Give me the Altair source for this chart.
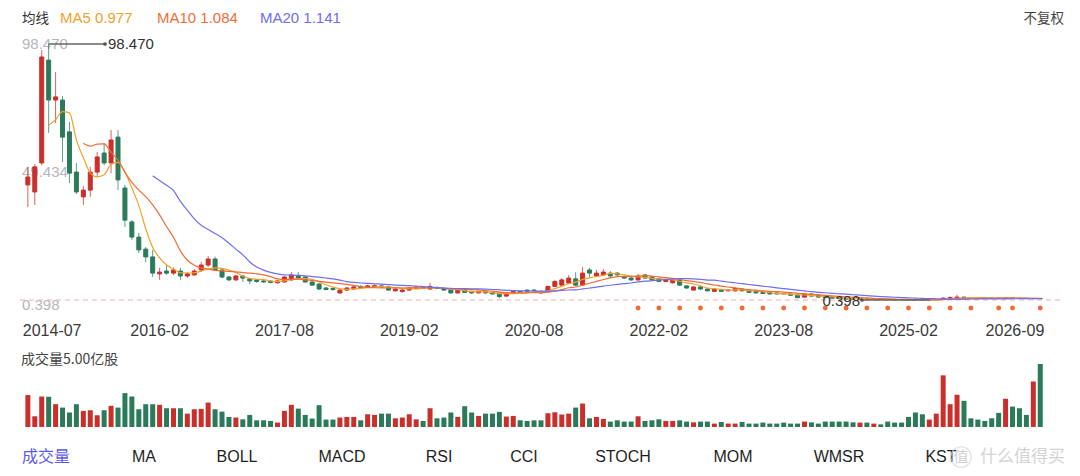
import altair as alt
import pandas as pd

# ---------------- data (monthly candles) ----------------
opens = [44.5, 41.8, 52.9, 92.3, 77.0, 77.0, 64.8, 49.4, 39.9, 42.5,
         49.4, 56.7, 52.9, 62.8, 43.3, 30.3, 24.5, 19.9, 16.9, 10.4,
         11.5, 10.7, 11.5, 9.6, 10.0, 11.9, 13.8, 16.1, 11.9, 9.2,
         8.1, 9.6, 8.5, 8.1, 7.7, 7.6, 7.0, 7.3, 8.1, 9.6,
         9.2, 7.3, 6.5, 5.0, 4.8, 3.1, 4.2, 4.6, 5.6, 5.2,
         5.4, 5.8, 5.4, 3.9, 3.6, 4.2, 4.9, 5.4, 4.6, 5.2,
         4.6, 4.2, 3.1, 4.2, 3.7, 3.1, 3.5, 3.3, 3.1, 1.9,
         3.1, 3.7, 4.2, 4.2, 3.7, 3.7, 5.6, 6.1, 6.9, 8.5,
         6.1, 11.9, 9.6, 10.0, 10.7, 10.7, 9.3, 8.8, 8.1, 10.0,
         9.3, 8.5, 7.5, 7.0, 8.1, 5.8, 4.2, 5.4, 4.6, 3.7,
         4.2, 3.9, 3.9, 4.6, 3.9, 3.7, 3.3, 3.3, 3.1, 2.9,
         2.7, 2.3, 1.5, 2.7, 2.3, 1.9, 1.4, 1.1, 0.9, 0.8,
         0.65, 0.8, 0.6, 0.7, 0.6, 0.58, 0.52, 0.5, 0.48, 0.47,
         0.42, 0.43, 0.6, 1.0, 1.2, 1.5, 1.3, 1.25, 1.2, 1.15,
         1.1, 1.0, 1.15, 1.05, 1.0, 0.9, 0.98]
closes = [47.5, 51.4, 93.5, 77.0, 78.2, 62.8, 49.0, 41.8, 42.5, 49.4,
          55.2, 52.9, 61.7, 46.4, 31.0, 24.5, 19.6, 16.9, 10.7, 11.1,
          10.7, 11.9, 9.6, 10.4, 11.5, 13.8, 16.1, 11.9, 9.2, 8.1,
          9.6, 8.8, 7.7, 7.5, 7.3, 7.1, 7.7, 9.2, 10.0, 8.8,
          7.3, 6.1, 4.6, 4.4, 4.4, 4.2, 5.0, 5.4, 5.2, 5.8,
          5.9, 5.4, 4.2, 4.6, 4.2, 5.0, 5.4, 5.0, 5.6, 4.8,
          4.2, 3.1, 4.2, 3.3, 3.1, 3.7, 3.1, 2.7, 1.7, 3.1,
          3.7, 3.3, 3.7, 3.9, 3.1, 5.6, 7.5, 8.1, 8.8, 6.1,
          10.7, 10.7, 10.7, 11.1, 9.6, 10.0, 8.8, 8.1, 9.6, 8.8,
          8.1, 7.5, 8.1, 8.1, 6.1, 5.0, 5.4, 4.6, 3.9, 4.6,
          3.7, 4.2, 4.8, 3.9, 3.3, 3.1, 2.9, 2.7, 2.7, 2.7,
          2.2, 1.3, 2.7, 1.9, 1.5, 1.3, 1.1, 0.9, 0.75, 0.7,
          0.8, 0.65, 0.7, 0.6, 0.55, 0.5, 0.48, 0.46, 0.45, 0.44,
          0.46, 0.6, 1.1, 1.3, 1.5, 1.3, 1.2, 1.15, 1.1, 1.05,
          1.0, 1.15, 1.05, 1.0, 0.95, 1.0, 0.88]
highs = [51.4, 52.5, 96.2, 98.47, 87.7, 78.5, 68.6, 52.9, 44.0, 51.4,
         57.1, 60.5, 65.5, 65.5, 44.5, 31.0, 26.1, 20.7, 19.6, 12.7,
         13.8, 12.9, 12.7, 11.1, 12.3, 15.0, 17.3, 17.0, 12.3, 9.6,
         10.0, 10.0, 8.8, 8.5, 8.1, 8.0, 8.1, 9.6, 11.1, 11.1,
         9.6, 7.7, 6.9, 5.4, 5.2, 4.6, 5.4, 5.8, 6.1, 6.3,
         6.5, 6.3, 5.8, 5.0, 4.6, 5.4, 5.8, 5.8, 7.0, 5.6,
         5.0, 4.4, 4.4, 4.4, 3.9, 3.9, 3.7, 3.5, 3.3, 3.3,
         3.9, 4.0, 4.4, 4.6, 3.9, 5.8, 8.1, 8.8, 10.0, 11.1,
         13.0, 12.7, 11.9, 12.3, 11.5, 11.1, 9.6, 9.2, 10.4, 10.4,
         9.6, 8.8, 8.5, 8.5, 8.5, 6.1, 5.8, 5.8, 5.0, 5.0,
         4.6, 4.6, 5.2, 5.0, 4.2, 3.9, 3.5, 3.5, 3.3, 3.1,
         2.9, 2.5, 2.9, 2.9, 2.5, 2.1, 1.6, 1.3, 1.0, 0.9,
         0.9, 0.85, 0.8, 0.75, 0.65, 0.62, 0.58, 0.55, 0.52, 0.5,
         0.5, 0.7, 1.5, 1.8, 2.4, 1.7, 1.5, 1.4, 1.3, 1.25,
         1.2, 1.3, 1.2, 1.15, 1.05, 1.1, 1.02]
lows = [36.0, 36.8, 52.0, 64.4, 68.2, 53.3, 45.2, 41.0, 36.8, 39.9,
        47.5, 52.0, 49.0, 42.5, 28.4, 23.4, 18.4, 14.9, 9.2, 8.1,
        10.0, 10.0, 8.1, 8.8, 9.6, 11.1, 13.0, 11.5, 8.8, 7.7,
        7.7, 7.3, 6.5, 7.0, 6.9, 6.8, 6.7, 7.0, 7.7, 8.1,
        7.0, 5.8, 4.2, 4.2, 4.0, 2.7, 4.0, 4.4, 4.8, 5.0,
        5.2, 5.2, 4.0, 3.7, 3.3, 4.0, 4.6, 4.8, 4.4, 4.6,
        4.0, 2.9, 2.9, 3.1, 2.7, 2.9, 2.9, 2.5, 1.1, 1.7,
        2.9, 3.1, 3.5, 3.7, 2.9, 3.5, 5.4, 5.8, 6.5, 5.8,
        5.8, 8.8, 9.2, 9.6, 9.2, 9.6, 8.5, 7.7, 7.7, 8.5,
        7.7, 7.3, 7.3, 6.7, 5.8, 4.6, 4.0, 4.4, 3.7, 3.5,
        3.5, 3.7, 3.7, 3.7, 3.1, 2.9, 2.7, 2.5, 2.5, 2.5,
        2.1, 1.1, 1.3, 1.7, 1.3, 1.1, 0.9, 0.8, 0.65, 0.6,
        0.6, 0.55, 0.55, 0.5, 0.5, 0.45, 0.44, 0.42, 0.41, 0.40,
        0.398, 0.41, 0.55, 0.95, 1.1, 1.2, 1.1, 1.05, 1.0, 1.0,
        0.95, 0.95, 1.0, 0.9, 0.85, 0.85, 0.85]
# volume, 亿股
volumes = [2.53, 0.85, 2.42, 2.4, 1.81, 1.54, 1.15, 1.81, 1.28, 1.33,
           0.93, 1.33, 1.68, 1.54, 2.69, 2.42, 1.41, 1.81, 1.81, 1.76,
           1.49, 1.49, 1.49, 1.06, 1.41, 1.44, 1.94, 1.41, 1.22, 0.8,
           0.75, 0.61, 0.96, 0.53, 0.53, 0.48, 0.35, 1.28, 1.76, 1.46,
           0.96, 0.67, 1.73, 0.59, 0.59, 0.75, 0.8, 0.8, 0.53, 1.01,
           0.96, 1.06, 1.06, 0.69, 0.75, 1.01, 0.61, 0.48, 1.49, 0.69,
           0.75, 1.15, 0.8, 1.65, 1.15, 0.88, 1.06, 1.06, 1.2, 0.83,
           0.88, 0.53, 0.48, 0.53,
           0.53, 1.09, 1.17, 0.99, 1.06, 1.54, 1.86, 0.69, 0.8, 0.64,
           0.43, 0.53, 0.43, 0.43, 0.85, 0.48, 0.53, 0.61, 0.48, 0.48,
           0.53, 0.43, 0.37, 0.43, 0.43, 0.27, 0.4, 0.27, 0.27, 0.4,
           0.27, 0.27, 0.35, 0.27, 0.27, 0.35, 0.27, 0.27, 0.43, 0.37,
           0.27, 0.43, 0.43, 0.43, 0.43, 0.37, 0.35, 0.35, 0.27, 0.21,
           0.43, 0.35, 0.35, 0.8, 1.15, 1.01, 0.59, 1.06, 4.1, 1.81,
           2.56, 2.08, 0.69, 0.59, 0.48, 0.69, 1.12, 2.24, 1.62, 1.49,
           0.96, 3.62, 5.0]

tick_idx = [1, 19, 37, 55, 73, 91, 109, 127, 145]
tick_labels = ["2014-07", "2016-02", "2017-08", "2019-02", "2020-08",
               "2022-02", "2023-08", "2025-02", "2026-09"]
event_idx = [88, 91, 94, 97, 100, 103, 106, 109, 112, 115, 118, 121,
             124, 127, 130, 133, 136, 140, 142, 146]
legend_ma = ["MA5 0.977", "MA10 1.084", "MA20 1.141"]
tabs = ["成交量", "MA", "BOLL", "MACD", "RSI", "CCI", "STOCH", "MOM", "WMSR", "KST"]

# ---------------- styling / layout ----------------
RED, GREEN = "#c92f2b", "#2b7b5b"
MA_COLORS = ["#f2a12a", "#f26c37", "#6e6ef2"]
FONT = "Liberation Sans"
CJK = "Noto Sans CJK SC"
W, H = 1064, 446
TOP = 14
tab_x = [38, 136, 229, 334, 431, 516, 615, 725, 831, 933]

N = len(closes)
df = pd.DataFrame({"i": list(range(N)), "open": opens, "close": closes,
                   "high": highs, "low": lows, "volume": volumes})

pmin, pmax = min(lows), max(highs)
xs = alt.Scale(domain=[-15 / 7, (W - 15) / 7], nice=False, zero=False)
ps = alt.Scale(domain=[pmin, pmax], range=[278, 22], nice=False, zero=False)
vs = alt.Scale(domain=[0, max(volumes)], range=[405, 342], nice=False, zero=False)

X = alt.X("i:Q", scale=xs, axis=None)
updown = alt.condition("datum.close >= datum.open", alt.value(RED), alt.value(GREEN))
base = alt.Chart(df)


def txt(t, x, y, size=14, color="#333", font=FONT, align="left", **kw):
    return alt.Chart(pd.DataFrame({"t": [t]})).mark_text(
        align=align, baseline="middle", fontSize=size, color=color, font=font, **kw
    ).encode(x=alt.value(x), y=alt.value(y), text="t:N")


layers = []

# price labels (max / mid / min)
ylab = pd.DataFrame({"v": [pmax, (pmax + pmin) / 2]})
layers.append(alt.Chart(ylab).transform_calculate(lab="format(datum.v, '.3f')").mark_text(
    align="left", baseline="middle", fontSize=15, color="#b5b5be", font=FONT
).encode(x=alt.value(14), y=alt.Y("v:Q", scale=ps, axis=None), text="lab:N"))
layers.append(alt.Chart(pd.DataFrame({"v": [pmin]})).transform_calculate(
    lab="format(datum.v, '.3f')").mark_text(
    align="left", baseline="middle", fontSize=15, color="#b5b5be", font=FONT, dy=5
).encode(x=alt.value(14), y=alt.Y("v:Q", scale=ps, axis=None), text="lab:N"))

# dashed min line
layers.append(alt.Chart(pd.DataFrame({"v": [pmin]})).mark_rule(
    color="#f3aeae", strokeDash=[5, 4], strokeWidth=1
).encode(x=alt.value(12), x2=alt.value(1054), y=alt.Y("v:Q", scale=ps, axis=None)))

# candles
layers.append(base.mark_rule(strokeWidth=1, opacity=0.75).encode(
    x=X, y=alt.Y("low:Q", scale=ps, axis=None), y2="high:Q", color=updown))
layers.append(base.mark_bar(size=4, strokeWidth=1).encode(
    x=X, y=alt.Y("open:Q", scale=ps, axis=None), y2="close:Q", color=updown, stroke=updown))

# moving averages (drawn from the first point that has k-1 earlier closes)
for k, col in zip([5, 10, 20], MA_COLORS):
    layers.append(base.transform_window(
        ma="mean(close)", n="count()", frame=[-(k - 1), 0], sort=[alt.SortField("i")]
    ).transform_filter(f"datum.n >= {k - 1}").mark_line(
        color=col, strokeWidth=1.2, interpolate="monotone"
    ).encode(x=X, y=alt.Y("ma:Q", scale=ps, axis=None)))

# max marker
imax = highs.index(pmax)
mx = pd.DataFrame({"i": [imax], "v": [pmax]})
layers.append(alt.Chart(mx).mark_rule(color="#666", strokeWidth=1.5).encode(
    x=X, x2=alt.value(97), y=alt.Y("v:Q", scale=ps, axis=None)))
layers.append(alt.Chart(mx).mark_circle(color="#555", size=14, opacity=1).encode(
    x=alt.value(97), y=alt.Y("v:Q", scale=ps, axis=None)))
layers.append(alt.Chart(mx).transform_calculate(lab="format(datum.v, '.3f')").mark_text(
    align="left", baseline="middle", fontSize=15, color="#333", font=FONT
).encode(x=alt.value(100), y=alt.Y("v:Q", scale=ps, axis=None), text="lab:N"))

# min marker
imin = lows.index(pmin)
mn = pd.DataFrame({"i": [imin], "v": [pmin]})
layers.append(alt.Chart(mn).mark_rule(color="#666", strokeWidth=1.5).encode(
    x=X, x2=alt.value(854), y=alt.Y("v:Q", scale=ps, axis=None)))
layers.append(alt.Chart(mn).mark_circle(color="#555", size=14, opacity=1).encode(
    x=alt.value(854), y=alt.Y("v:Q", scale=ps, axis=None)))
layers.append(alt.Chart(mn).transform_calculate(lab="format(datum.v, '.3f')").mark_text(
    align="right", baseline="middle", fontSize=15, color="#333", font=FONT, dy=1
).encode(x=alt.value(852), y=alt.Y("v:Q", scale=ps, axis=None), text="lab:N"))

# event dots
layers.append(alt.Chart(pd.DataFrame({"i": event_idx})).mark_circle(
    color="#f26a33", size=24, opacity=1).encode(x=X, y=alt.value(286)))

# volume bars
layers.append(base.mark_bar(size=5).encode(
    x=X, y=alt.Y("volume:Q", scale=vs, axis=None), y2=alt.datum(0), color=updown))

# date labels
tk = pd.DataFrame({"i": tick_idx, "lab": tick_labels})
tstyle = dict(baseline="middle", fontSize=16, color="#3a3a3a", font=FONT)
layers.append(alt.Chart(tk.iloc[1:-1]).mark_text(align="center", **tstyle).encode(
    x=X, y=alt.value(309), text="lab:N"))
layers.append(alt.Chart(tk.iloc[:1]).mark_text(align="left", dx=-12, **tstyle).encode(
    x=X, y=alt.value(309), text="lab:N"))
layers.append(alt.Chart(tk.iloc[-1:]).mark_text(align="right", dx=11, **tstyle).encode(
    x=X, y=alt.value(309), text="lab:N"))

# header
layers.append(txt("均线", 14, -3, size=13.5, color="#333", font=CJK))
for t, x, col in zip(legend_ma, [52, 149, 252], MA_COLORS):
    layers.append(txt(t, x, -4, size=15, color=col))
layers.append(txt("不复权", 1056, -3, size=13.5, color="#444", font=CJK, align="right"))

# volume header
layers.append(txt("成交量5.00亿股", 13, 338, size=14, color="#444", font=CJK))

# indicator tabs
for j, (t, x) in enumerate(zip(tabs, tab_x)):
    layers.append(txt(t, x, 435, size=16, color="#5b5bf0" if j == 0 else "#1f1f1f",
                      font=CJK if j == 0 else FONT, align="center"))

# watermark
layers.append(txt("值", 953, 435, size=15, color="#d0d0d0", font=CJK, align="center"))
layers.append(alt.Chart(pd.DataFrame({"a": [1]})).mark_circle(
    size=420, filled=False, color="#d6d6d6", strokeWidth=1.2).encode(
    x=alt.value(953), y=alt.value(435)))
layers.append(txt("什么值得买", 972, 435, size=17, color="#cfcfcf", font=CJK, opacity=0.9))

chart = alt.layer(*layers).resolve_scale(y="independent").properties(
    width=W, height=H, padding={"left": 0, "top": TOP, "right": 0, "bottom": 0},
    autosize=alt.AutoSizeParams(type="none"), background="white"
).configure_view(strokeWidth=0)

chart.save("out.html", embed_options={"renderer": "svg", "actions": False})
